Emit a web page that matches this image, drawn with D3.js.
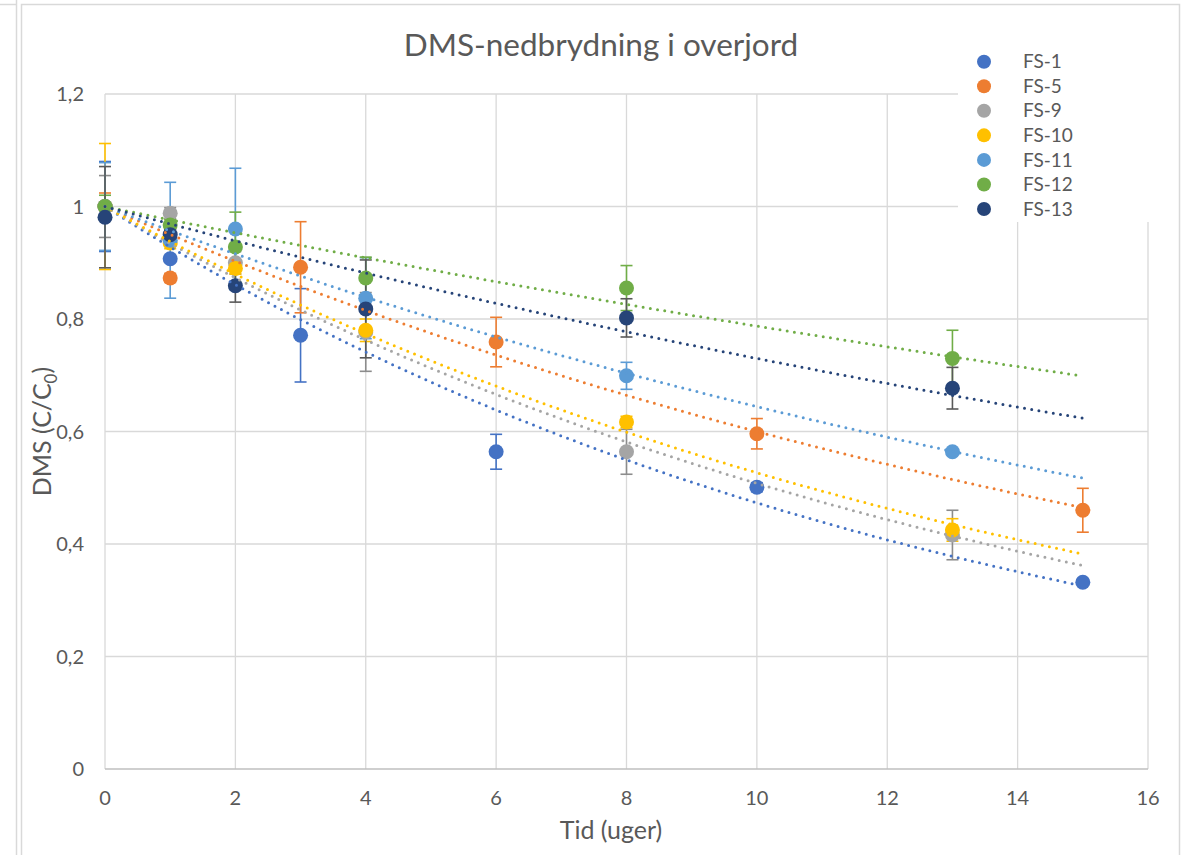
<!DOCTYPE html>
<html>
<head>
<meta charset="utf-8">
<script src="https://d3js.org/d3.v7.min.js"></script>
<style>
  body { margin: 0; background: #fff; }
  svg { font-family: Lato, "Open Sans", sans-serif; }
</style>
</head>
<body>
<svg width="1188" height="855"></svg>
<script>
// Sampling times (weeks)
var timesA = [0, 1, 3, 6, 10, 15];   // FS-1, FS-5
var timesB = [0, 1, 2, 4, 8, 13];    // FS-9 .. FS-13

// C/C0 values and error bar half-widths
var fs1 = [1, 0.907, 0.771, 0.564, 0.501, 0.332];
var fs1Err = [0.08, 0, 0.083, 0.031, 0.008, 0.004];
var fs5 = [1, 0.873, 0.892, 0.759, 0.596, 0.460];
var fs5Err = [0.024, 0.008, 0.081, 0.044, 0.027, 0.039];
var fs9 = [1, 0.988, 0.9, 0.777, 0.564, 0.416];
var fs9Err = [0.055, 0.01, 0.02, 0.07, 0.04, 0.044];
var fs10 = [1, 0.935, 0.89, 0.78, 0.617, 0.425];
var fs10Err = [0.112, 0.01, 0.01, 0.02, 0.01, 0.02];
var fs11 = [1, 0.94, 0.96, 0.837, 0.699, 0.564];
var fs11Err = [0.078, 0.103, 0.108, 0.072, 0.024, 0.004];
var fs12 = [1, 0.967, 0.928, 0.873, 0.855, 0.730];
var fs12Err = [0.02, 0.01, 0.062, 0.037, 0.04, 0.05];
var fs13 = [0.981, 0.95, 0.859, 0.818, 0.802, 0.677];
var fs13Err = [0.09, 0.01, 0.029, 0.087, 0.034, 0.037];

var xTicks = [0, 2, 4, 6, 8, 10, 12, 14, 16];
var yTicks = [0, 0.2, 0.4, 0.6, 0.8, 1, 1.2];

var series = [
  { name: "FS-1", x: timesA, y: fs1, err: fs1Err, color: "#4472C4", errColor: "#4472C4" },
  { name: "FS-5", x: timesA, y: fs5, err: fs5Err, color: "#ED7D31", errColor: "#ED7D31" },
  { name: "FS-9", x: timesB, y: fs9, err: fs9Err, color: "#A5A5A5", errColor: "#8c8c8c" },
  { name: "FS-10", x: timesB, y: fs10, err: fs10Err, color: "#FFC000", errColor: "#FFC000" },
  { name: "FS-11", x: timesB, y: fs11, err: fs11Err, color: "#5B9BD5", errColor: "#5B9BD5" },
  { name: "FS-12", x: timesB, y: fs12, err: fs12Err, color: "#70AD47", errColor: "#70AD47" },
  { name: "FS-13", x: timesB, y: fs13, err: fs13Err, color: "#264478", errColor: "#595959" }
];

// Plot area
var plotLeft = 105, plotRight = 1148, plotTop = 94, plotBottom = 769;

var xScale = d3.scaleLinear().domain([0, 16]).range([plotLeft, plotRight]);
var yScale = d3.scaleLinear().domain([0, 1.2]).range([plotBottom, plotTop]);

var svg = d3.select("svg");

// Outer chart frame
svg.append("line").attr("x1", 16.5).attr("x2", 16.5).attr("y1", 0).attr("y2", 855)
  .style("stroke", "#d9d9d9").style("stroke-width", 1.5);
svg.append("line").attr("x1", 0).attr("x2", 16).attr("y1", 4.5).attr("y2", 4.5)
  .style("stroke", "#d9d9d9").style("stroke-width", 1.5);
svg.append("rect").attr("x", 21.5).attr("y", 4.5).attr("width", 1158).attr("height", 860)
  .style("fill", "#fff").style("stroke", "#d9d9d9").style("stroke-width", 1.5);

// Gridlines
svg.append("g")
  .selectAll("line")
  .data(xTicks)
  .enter()
  .append("line")
  .attr("x1", function(d) { return xScale(d); })
  .attr("x2", function(d) { return xScale(d); })
  .attr("y1", plotTop)
  .attr("y2", plotBottom)
  .style("stroke", "#d9d9d9")
  .style("stroke-width", 1.3);

svg.append("g")
  .selectAll("line")
  .data(yTicks.filter(function(d) { return d > 0; }))
  .enter()
  .append("line")
  .attr("x1", plotLeft)
  .attr("x2", plotRight)
  .attr("y1", function(d) { return yScale(d); })
  .attr("y2", function(d) { return yScale(d); })
  .style("stroke", "#d9d9d9")
  .style("stroke-width", 1.3);

// Bottom axis line
svg.append("line")
  .attr("x1", plotLeft).attr("x2", plotRight)
  .attr("y1", yScale(0)).attr("y2", yScale(0))
  .style("stroke", "#bfbfbf")
  .style("stroke-width", 1.5);

// Tick labels
var fmt = function(d) { return String(d).replace(".", ","); };

svg.append("g")
  .selectAll("text")
  .data(yTicks)
  .enter()
  .append("text")
  .attr("x", 84)
  .attr("y", function(d) { return yScale(d); })
  .attr("dy", "0.35em")
  .attr("text-anchor", "end")
  .style("fill", "#595959")
  .style("font-size", "20px")
  .text(fmt);

svg.append("g")
  .selectAll("text")
  .data(xTicks)
  .enter()
  .append("text")
  .attr("x", function(d) { return xScale(d); })
  .attr("y", 798)
  .attr("dy", "0.35em")
  .attr("text-anchor", "middle")
  .style("fill", "#595959")
  .style("font-size", "20px")
  .text(fmt);

// Error bars
series.forEach(function(s) {
  var pts = s.x.map(function(x, i) { return { x: x, y: s.y[i], e: s.err[i] }; })
    .filter(function(p) { return p.e > 0; });
  var g = svg.append("g").style("stroke", s.errColor).style("stroke-width", 1.6);
  g.selectAll(".bar").data(pts).enter().append("line")
    .attr("x1", function(p) { return xScale(p.x); })
    .attr("x2", function(p) { return xScale(p.x); })
    .attr("y1", function(p) { return yScale(p.y + p.e); })
    .attr("y2", function(p) { return yScale(p.y - p.e); });
  [1, -1].forEach(function(sign) {
    g.selectAll(".cap" + sign).data(pts).enter().append("line")
      .attr("x1", function(p) { return xScale(p.x) - 6; })
      .attr("x2", function(p) { return xScale(p.x) + 6; })
      .attr("y1", function(p) { return yScale(p.y + sign * p.e); })
      .attr("y2", function(p) { return yScale(p.y + sign * p.e); });
  });
});

// Markers
series.forEach(function(s) {
  svg.append("g")
    .selectAll("circle")
    .data(s.x.map(function(x, i) { return { x: x, y: s.y[i] }; }))
    .enter()
    .append("circle")
    .attr("cx", function(p) { return xScale(p.x); })
    .attr("cy", function(p) { return yScale(p.y); })
    .attr("r", 7.5)
    .style("fill", s.color);
});

// Exponential trendlines through (0,1): y = exp(-k x)
series.forEach(function(s) {
  var num = d3.sum(s.x, function(x, i) { return x * Math.log(s.y[i]); });
  var den = d3.sum(s.x, function(x) { return x * x; });
  var k = -num / den;
  var line = d3.line()
    .x(function(x) { return xScale(x); })
    .y(function(x) { return yScale(Math.exp(-k * x)); });
  svg.append("path")
    .datum(d3.range(0, 15.01, 0.25))
    .attr("d", line)
    .style("fill", "none")
    .style("stroke", s.color)
    .style("stroke-width", 3)
    .style("stroke-linecap", "round")
    .style("stroke-dasharray", "0,7.3");
});

// Legend
var legend = svg.append("g");
legend.append("rect")
  .attr("x", 958).attr("y", 38).attr("width", 198).attr("height", 184)
  .style("fill", "#fff");
series.forEach(function(s, i) {
  var yy = 61.7 + i * 24.55;
  legend.append("circle").attr("cx", 984).attr("cy", yy).attr("r", 7).style("fill", s.color);
  legend.append("text").attr("x", 1023).attr("y", yy).attr("dy", "0.35em")
    .style("fill", "#595959").style("font-size", "19px").text(s.name);
});

// Title
svg.append("text")
  .attr("x", 601).attr("y", 45).attr("dy", "0.35em")
  .attr("text-anchor", "middle")
  .style("fill", "#595959")
  .style("font-size", "31.5px")
  .text("DMS-nedbrydning i overjord");

// Axis titles
svg.append("text")
  .attr("x", 611).attr("y", 830).attr("dy", "0.35em")
  .attr("text-anchor", "middle")
  .style("fill", "#595959")
  .style("font-size", "25px")
  .text("Tid (uger)");

var yt = svg.append("text")
  .attr("transform", "translate(42," + ((plotTop + plotBottom) / 2) + ") rotate(-90)")
  .attr("dy", "0.35em")
  .attr("text-anchor", "middle")
  .style("fill", "#595959")
  .style("font-size", "25px");
yt.append("tspan").text("DMS (C/C");
yt.append("tspan").attr("dy", "6").style("font-size", "17px").text("0");
yt.append("tspan").attr("dy", "-6").text(")");
</script>
</body>
</html>
